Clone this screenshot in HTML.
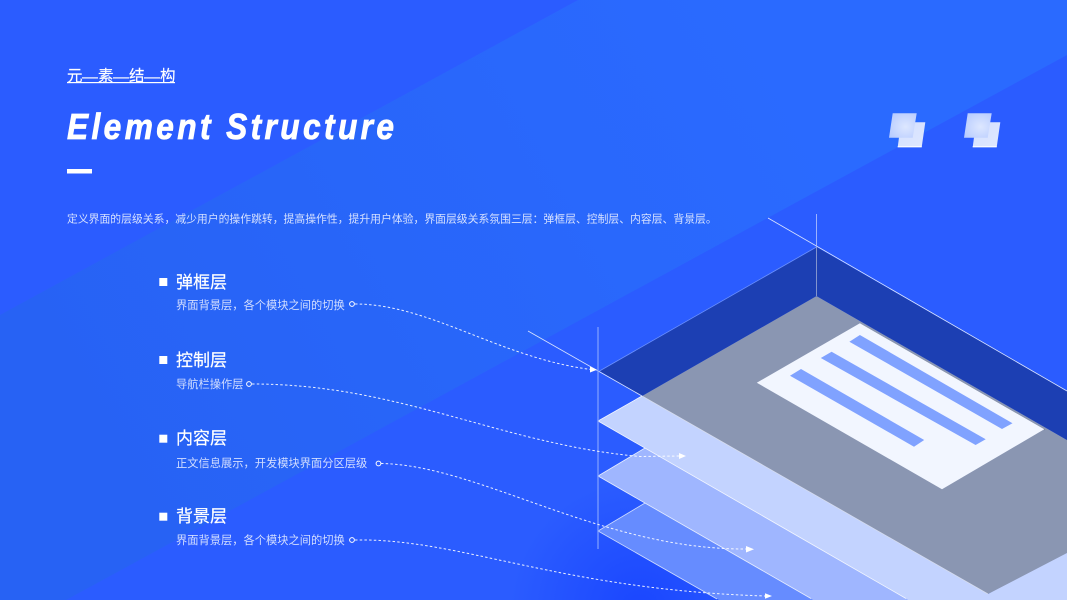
<!DOCTYPE html>
<html>
<head>
<meta charset="utf-8">
<style>
html,body{margin:0;padding:0;background:#2b5cff;width:1067px;height:600px;overflow:hidden}
svg{display:block;width:1067px;height:600px;overflow:hidden}
text{font-family:"Liberation Sans","Noto Sans CJK SC",sans-serif;fill:#fff}
.t{font-size:17px;font-weight:400;stroke:#fff;stroke-width:.2}
.s{font-size:11.25px;fill:#d3deff}
.d{fill:none;stroke:#fff;stroke-width:1;stroke-dasharray:2.5 2.2;opacity:.9}
.c{fill:none;stroke:#fff;stroke-width:1}
</style>
</head>
<body>
<svg width="1067" height="600" viewBox="0 0 1067 600" xmlns="http://www.w3.org/2000/svg">
<defs>
<radialGradient id="deep" gradientUnits="userSpaceOnUse" cx="640" cy="610" r="130">
<stop offset="0" stop-color="#1a46ff"/><stop offset="1" stop-color="#1a46ff" stop-opacity="0"/>
</radialGradient>
<linearGradient id="band" gradientUnits="userSpaceOnUse" x1="100" y1="480" x2="800" y2="100">
<stop offset="0" stop-color="#2762f4"/><stop offset="1" stop-color="#2a6aff"/>
</linearGradient>
<radialGradient id="g1" cx=".6" cy=".55" r=".75">
<stop offset="0" stop-color="#dde7ff"/><stop offset="1" stop-color="#b4c9ff"/>
</radialGradient>
<linearGradient id="g2" x1="0" y1="0" x2="1" y2="1">
<stop offset="0" stop-color="#d3dfff"/><stop offset="1" stop-color="#dfe8ff"/>
</linearGradient>
<g id="ic">
<polygon points="901,122.3 925.3,122.3 921.7,147.3 897.7,147.3" fill="url(#g2)"/>
<line x1="897.7" y1="146.8" x2="921.7" y2="146.8" stroke="#fff" stroke-width="1"/>
<polygon points="892.7,113.3 916.7,113.3 912.7,137.7 889,137.7" fill="url(#g1)"/>
</g>
</defs>

<rect width="1067" height="600" fill="#2b5cff"/>
<polygon points="578,0 1067,0 1067,55 66,600 0,600 0,315" fill="url(#band)"/>
<rect width="1067" height="600" fill="url(#deep)"/>

<!-- Header -->
<text x="67" y="81" font-size="15.5" letter-spacing="15.5" stroke="#fff" stroke-width=".15">元素结构</text>
<rect x="67" y="82" width="108" height="1.2" fill="#fff"/>
<rect x="82" y="77.3" width="16" height="1.2" fill="#fff"/>
<rect x="113" y="77.3" width="16" height="1.2" fill="#fff"/>
<rect x="144" y="77.3" width="16" height="1.2" fill="#fff"/>
<g transform="translate(67 139) scale(.88 1)">
<text x="0" y="0" font-size="36" font-weight="700" font-style="italic" textLength="371.6" lengthAdjust="spacing" stroke="#fff" stroke-width=".8">Element Structure</text>
</g>
<rect x="67" y="169" width="25" height="4.5" fill="#fff"/>
<text x="67" y="222.5" font-size="10.83" style="fill:#d6e1ff">定义界面的层级关系，减少用户的操作跳转，提高操作性，提升用户体验，界面层级关系氛围三层：弹框层、控制层、内容层、背景层。</text>

<!-- Icons -->
<use href="#ic"/>
<use href="#ic" x="75"/>

<!-- Layers -->
<polygon points="598,531 645,503 813,600 719,600" fill="#668cff"/>
<polyline points="645,503 598,531 717,599" fill="none" stroke="#cfdcff" stroke-width=".8"/>
<polygon points="598,476 645,448 908,600 813,600" fill="#9fb6ff"/>
<polyline points="645,448 598,476 811,598.5" fill="none" stroke="#e6edff" stroke-width=".8"/>
<polygon points="598,421 642,396 988,594 1067,549 1067,600 908,600" fill="#c3d3ff"/>
<polyline points="642,396 598,421 906,598.5" fill="none" stroke="#f2f6ff" stroke-width=".8"/>
<polygon points="642,396 816.5,296 1067,440 1067,553 988,594" fill="#8a96b2"/>
<polygon points="599.5,371 816.5,247 1067,391 1067,440 816.5,296 642,396" fill="#1c3fb3"/>

<line x1="860.5" y1="324" x2="1045" y2="430" stroke="#747e96" stroke-width="1"/>
<polygon points="756.8,382.7 859.9,323.3 1044.3,429.3 942,489.3" fill="#f2f6ff"/>
<polygon points="849.4,341.7 859.9,335 1012.5,423.3 1002,429" fill="#80a2ff"/>
<polygon points="820.8,358 831.6,351.7 985.7,439.3 975.6,445" fill="#80a2ff"/>
<polygon points="790,375.7 801,369 924.2,440 914,446.7" fill="#80a2ff"/>

<line x1="528" y1="331" x2="642" y2="396" stroke="#dbe5ff" stroke-width=".8"/>
<line x1="642" y1="396" x2="988" y2="594" stroke="#d5dcee" stroke-width=".8"/>
<line x1="768" y1="218" x2="1067" y2="391" stroke="#dbe5ff" stroke-width=".8"/>
<line x1="599.5" y1="371" x2="816.5" y2="247" stroke="#6a90ff" stroke-width=".8"/>
<line x1="816.5" y1="214" x2="816.5" y2="247" stroke="#a9bdff" stroke-width=".9"/>
<line x1="816.5" y1="247" x2="816.5" y2="296" stroke="#8f9fd2" stroke-width=".9"/>
<line x1="598" y1="327" x2="598" y2="549" stroke="#7c9dff" stroke-width="1.3"/>

<!-- List -->
<rect x="159.3" y="278" width="8" height="8" fill="#fff"/>
<rect x="159.3" y="356" width="8" height="8" fill="#fff"/>
<rect x="159.3" y="434.7" width="8" height="8" fill="#fff"/>
<rect x="159.3" y="512.7" width="8" height="8" fill="#fff"/>

<text class="t" x="176" y="288">弹框层</text>
<text class="s" x="176" y="309">界面背景层，各个模块之间的切换</text>
<text class="t" x="176" y="366">控制层</text>
<text class="s" x="176" y="388">导航栏操作层</text>
<text class="t" x="176" y="444">内容层</text>
<text class="s" x="176" y="467">正文信息展示，开发模块界面分区层级</text>
<text class="t" x="176" y="522">背景层</text>
<text class="s" x="176" y="544">界面背景层，各个模块之间的切换</text>

<!-- Connectors -->
<circle class="c" cx="352" cy="304" r="2.4"/>
<circle class="c" cx="249" cy="384" r="2.4"/>
<circle class="c" cx="378.5" cy="463.5" r="2.4"/>
<circle class="c" cx="352" cy="540" r="2.4"/>

<path class="d" d="M355 304 C430 304 500 358 591 369.5"/>
<path class="d" d="M252 384 C400 384 500 444 640 456.5 L680 456"/>
<path class="d" d="M381 463.5 C480 465 600 550 747 549"/>
<path class="d" d="M355 540 C460 538 560 590 766 596"/>

<polygon points="590,366.5 597,369.7 590,372.5" fill="#fff"/>
<polygon points="679,453 686,456 679,459" fill="#fff"/>
<polygon points="746,546 754,549.3 746,552.5" fill="#fff"/>
<polygon points="765,593.2 772,596 765,598.8" fill="#fff"/>
</svg>
</body>
</html>
